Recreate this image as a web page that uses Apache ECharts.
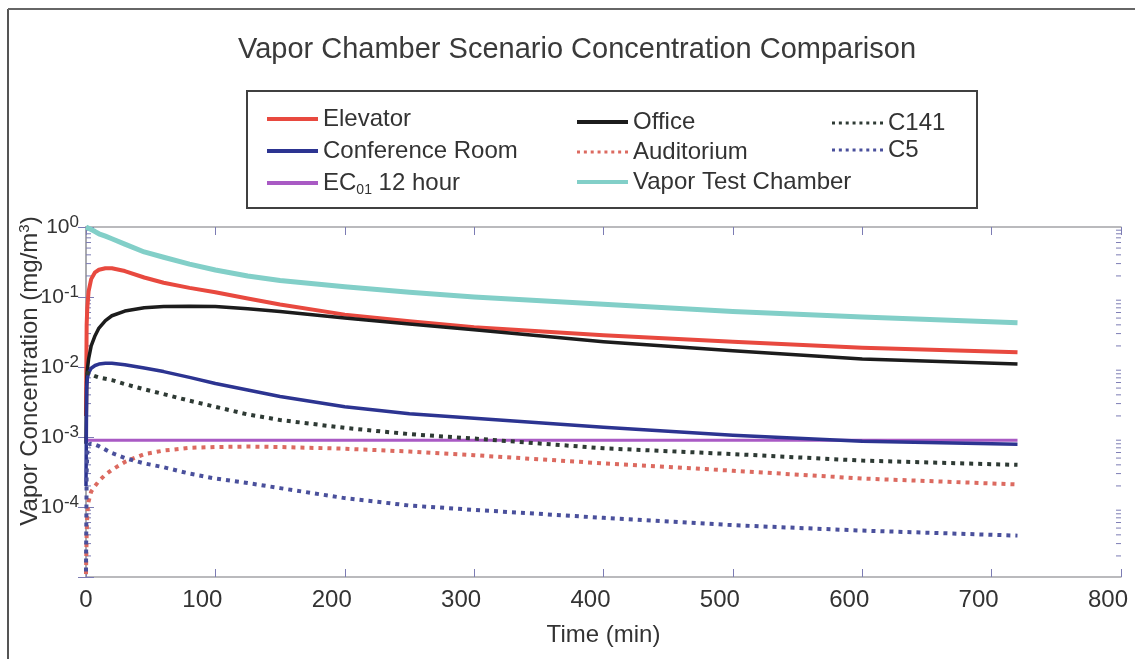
<!DOCTYPE html>
<html>
<head>
<meta charset="utf-8">
<script src="https://cdn.jsdelivr.net/npm/echarts@6/dist/echarts.min.js"></script>
<style>
html,body{margin:0;padding:0;background:#fff;overflow:hidden;}
#chart{width:1135px;height:659px;}
</style>
</head>
<body>
<div id="chart"></div>
<script>
// ---- data (time in minutes, concentration in mg/m^3) ----
const times = [0, 0.5, 1, 2, 4, 7, 10, 15, 20, 30, 45, 60, 80, 100, 125, 150, 200, 250, 300, 400, 500, 600, 720];
const chamberValues = [1.0, 0.99, 0.98, 0.96, 0.92, 0.86, 0.8, 0.74, 0.68, 0.57, 0.44, 0.37, 0.295, 0.243, 0.2, 0.172, 0.14, 0.117, 0.1, 0.079, 0.062, 0.052, 0.043];
const elevatorValues = [0.002, 0.04, 0.07, 0.12, 0.18, 0.225, 0.245, 0.258, 0.257, 0.235, 0.19, 0.16, 0.135, 0.117, 0.095, 0.078, 0.056, 0.045, 0.037, 0.0285, 0.023, 0.0188, 0.0162];
const officeValues = [0.0008, 0.006, 0.009, 0.013, 0.02, 0.028, 0.036, 0.046, 0.054, 0.063, 0.07, 0.073, 0.074, 0.073, 0.068, 0.062, 0.05, 0.041, 0.034, 0.023, 0.017, 0.013, 0.011];
const conferenceValues = [0.0002, 0.005, 0.0068, 0.0082, 0.0096, 0.0105, 0.011, 0.0113, 0.0113, 0.0108, 0.0097, 0.0086, 0.0071, 0.0058, 0.0047, 0.0038, 0.0027, 0.00215, 0.00185, 0.00138, 0.00106, 0.00087, 0.00079];
const c141Values = [0.0085, 0.0084, 0.0083, 0.0081, 0.0078, 0.0074, 0.0071, 0.0068, 0.0065, 0.0057, 0.0048, 0.0041, 0.0033, 0.0027, 0.0021, 0.00175, 0.00135, 0.0011, 0.00095, 0.00069, 0.00057, 0.00046, 0.0004];
const auditoriumValues = [1.1e-5, 4e-5, 8e-5, 1.2e-4, 1.66e-4, 2.0e-4, 2.35e-4, 2.9e-4, 3.4e-4, 4.4e-4, 5.7e-4, 6.4e-4, 7.0e-4, 7.2e-4, 7.3e-4, 7.2e-4, 6.8e-4, 6.2e-4, 5.5e-4, 4.2e-4, 3.3e-4, 2.55e-4, 2.1e-4];
const c5Values = [1.2e-5, 3e-4, 6e-4, 7.8e-4, 8.0e-4, 7.8e-4, 7.4e-4, 6.6e-4, 5.9e-4, 5.0e-4, 4.2e-4, 3.7e-4, 3.0e-4, 2.55e-4, 2.2e-4, 1.86e-4, 1.34e-4, 1.05e-4, 9.1e-5, 7.0e-5, 5.5e-5, 4.6e-5, 3.9e-5];
const ec01Times = [0, 720];
const ec01Values = [0.0009, 0.0009];

const xTickInterval = 100;
const xMin = 0, xMax = 800;
const yMin = 1e-5, yMax = 1;

// log minor tick values (2..9 x 10^k) for the axis decoration
const minorTickValues = [];
for (let k = -5; k < 0; k++) {
  for (let m = 2; m <= 9; m++) minorTickValues.push(m * Math.pow(10, k));
}

const FONT = "'Liberation Sans', Arial, sans-serif";
const TEXT = '#333333';
const AXIS_LINE = '#a4a4a8';
const TICK = '#7c7cb4';

const SOLID_ICON = 'path://M0,0h51v4h-51z';
const DOTTED_ICON = 'path://M0,0h3v3h-3z M6.86,0h3v3h-3z M13.71,0h3v3h-3z M20.57,0h3v3h-3z M27.43,0h3v3h-3z M34.29,0h3v3h-3z M41.14,0h3v3h-3z M48,0h3v3h-3z';
const dottedNames = ['C141', 'C5', 'Auditorium'];

function pairs(ts, vs) { return ts.map((t, i) => [t, vs[i]]); }

function lineSeries(name, ts, vs, color, width, dotted) {
  return {
    name: name, type: 'line', data: pairs(ts, vs),
    showSymbol: false, symbol: 'none', smooth: false,
    lineStyle: { color: color, width: width, type: dotted ? [4, 5] : 'solid', cap: 'butt', join: 'round' },
    itemStyle: { color: color },
    emphasis: { disabled: true }
  };
}

const legendText = { fontSize: 24, color: TEXT, fontFamily: FONT,
  rich: {
    n: { fontSize: 24, color: TEXT, fontFamily: FONT },
    sub: { fontSize: 14, color: TEXT, fontFamily: FONT, padding: [14, 0, 0, 0] }
  }
};
function legendFormatter(name) {
  if (name === 'EC01 12 hour') return '{n|EC}{sub|01}{n| 12 hour}';
  return name;
}
function makeLegend(left, top, names, gap) {
  return {
    orient: 'vertical', left: left, top: top, itemWidth: 51, itemHeight: 14, itemGap: gap,
    symbolKeepAspect: true,
    textStyle: legendText, formatter: legendFormatter, selectedMode: false,
    data: names.map(n => ({ name: n, icon: dottedNames.indexOf(n) >= 0 ? DOTTED_ICON : SOLID_ICON }))
  };
}

const chart = echarts.init(document.getElementById('chart'), null, { renderer: 'canvas' });
const option = {
  animation: false,
  backgroundColor: '#ffffff',
  title: {
    text: 'Vapor Chamber Scenario Concentration Comparison',
    left: 572, top: 30, textAlign: 'center',
    textStyle: { fontSize: 29, fontWeight: 'normal', color: '#3a3a3a', fontFamily: FONT }
  },
  graphic: [
    { type: 'line', shape: { x1: 8, y1: 9, x2: 8, y2: 659 }, style: { stroke: '#555', lineWidth: 2 }, z: 0 },
    { type: 'line', shape: { x1: 8, y1: 9, x2: 1135, y2: 9 }, style: { stroke: '#666', lineWidth: 2 }, z: 0 },
    { type: 'rect', shape: { x: 247, y: 91, width: 730, height: 117 }, style: { fill: '#fff', stroke: '#404040', lineWidth: 2 }, z: 0 }
  ],
  legend: [
    makeLegend(262, 102, ['Elevator', 'Conference Room', 'EC01 12 hour'], 8),
    makeLegend(572, 105, ['Office', 'Auditorium', 'Vapor Test Chamber'], 6),
    makeLegend(827, 106, ['C141', 'C5'], 3)
  ],
  grid: { left: 86, right: 14, top: 227, bottom: 82, outerBoundsMode: 'none', containLabel: false },
  xAxis: [
    {
      type: 'value', min: xMin, max: xMax, interval: xTickInterval, position: 'bottom',
      name: 'Time (min)', nameLocation: 'middle', nameGap: 46, nameMoveOverlap: false,
      nameTextStyle: { fontSize: 24, color: TEXT, fontFamily: FONT },
      axisLine: { show: true, lineStyle: { color: AXIS_LINE, width: 1.5 } },
      axisTick: { show: true, inside: true, length: 8, lineStyle: { color: TICK, width: 1 } },
      axisLabel: {
        fontSize: 24, color: TEXT, fontFamily: FONT, margin: 11,
        formatter: function (v) { return v === 0 ? '{z|0}' : '{o|' + v + '}'; },
        rich: {
          z: { fontSize: 24, color: TEXT, fontFamily: FONT },
          o: { fontSize: 24, color: TEXT, fontFamily: FONT, padding: [0, 26, 0, 0] }
        }
      },
      splitLine: { show: false }
    },
    {
      type: 'value', min: xMin, max: xMax, interval: xTickInterval, position: 'top',
      axisLine: { show: true, lineStyle: { color: AXIS_LINE, width: 1.5 } },
      axisTick: { show: true, inside: true, length: 8, lineStyle: { color: TICK, width: 1 } },
      axisLabel: { show: false }, splitLine: { show: false }
    }
  ],
  yAxis: [
    {
      type: 'log', logBase: 10, min: yMin, max: yMax, interval: 1, position: 'left',
      name: '{n|Vapor Concentration (mg/m}{s|3}{n|)}', nameLocation: 'middle', nameGap: 42, nameMoveOverlap: false,
      nameTextStyle: { fontSize: 24, color: TEXT, fontFamily: FONT, padding: [0, 0, 0, 62],
        rich: { n: { fontSize: 24, color: TEXT, fontFamily: FONT },
                s: { fontSize: 15, color: TEXT, fontFamily: FONT, padding: [0, 0, 12, 0] } } },
      axisLine: { show: true, lineStyle: { color: AXIS_LINE, width: 1.5 } },
      axisTick: { show: true, inside: true, length: 8, lineStyle: { color: TICK, width: 1 } },
      axisLabel: {
        margin: 7, color: TEXT, fontFamily: FONT,
        formatter: function (v) {
          const e = Math.round(Math.log10(v));
          if (e === -5) return '';
          return '{b|10}{s|' + e + '}';
        },
        rich: {
          b: { fontSize: 21, color: TEXT, fontFamily: FONT },
          s: { fontSize: 17, color: TEXT, fontFamily: FONT, padding: [0, 0, 9, 0] }
        }
      },
      splitLine: { show: false }
    },
    {
      type: 'log', logBase: 10, min: yMin, max: yMax, interval: 1, position: 'right',
      axisLine: { show: true, lineStyle: { color: AXIS_LINE, width: 1.5 } },
      axisTick: { show: true, inside: true, length: 8, lineStyle: { color: TICK, width: 1 } },
      axisLabel: { show: false }, splitLine: { show: false }
    }
  ],
  series: [
    {
      name: 'minorTicks', type: 'custom', silent: true, clip: false, z: 1,
      xAxisIndex: 0, yAxisIndex: 0,
      data: minorTickValues.map(v => [0, v]),
      encode: { x: 0, y: 1 },
      renderItem: function (params, api) {
        const y = api.coord([0, api.value(1)])[1];
        const cs = params.coordSys;
        return {
          type: 'group',
          children: [
            { type: 'line', shape: { x1: cs.x, y1: y, x2: cs.x + 5, y2: y }, style: { stroke: TICK, lineWidth: 1 } },
            { type: 'line', shape: { x1: cs.x + cs.width - 5, y1: y, x2: cs.x + cs.width, y2: y }, style: { stroke: TICK, lineWidth: 1 } }
          ]
        };
      }
    },
    lineSeries('Vapor Test Chamber', times, chamberValues, '#82cfc8', 5, false),
    lineSeries('EC01 12 hour', ec01Times, ec01Values, '#a95ac4', 3, false),
    lineSeries('Elevator', times, elevatorValues, '#e8493f', 4, false),
    lineSeries('Office', times, officeValues, '#1c1c1c', 3.5, false),
    lineSeries('Conference Room', times, conferenceValues, '#2c3491', 3.5, false),
    lineSeries('Auditorium', times, auditoriumValues, '#dc6a60', 4, true),
    lineSeries('C141', times, c141Values, '#2e3a34', 4, true),
    lineSeries('C5', times, c5Values, '#4a509c', 4, true)
  ]
};
chart.setOption(option);
</script>
</body>
</html>
